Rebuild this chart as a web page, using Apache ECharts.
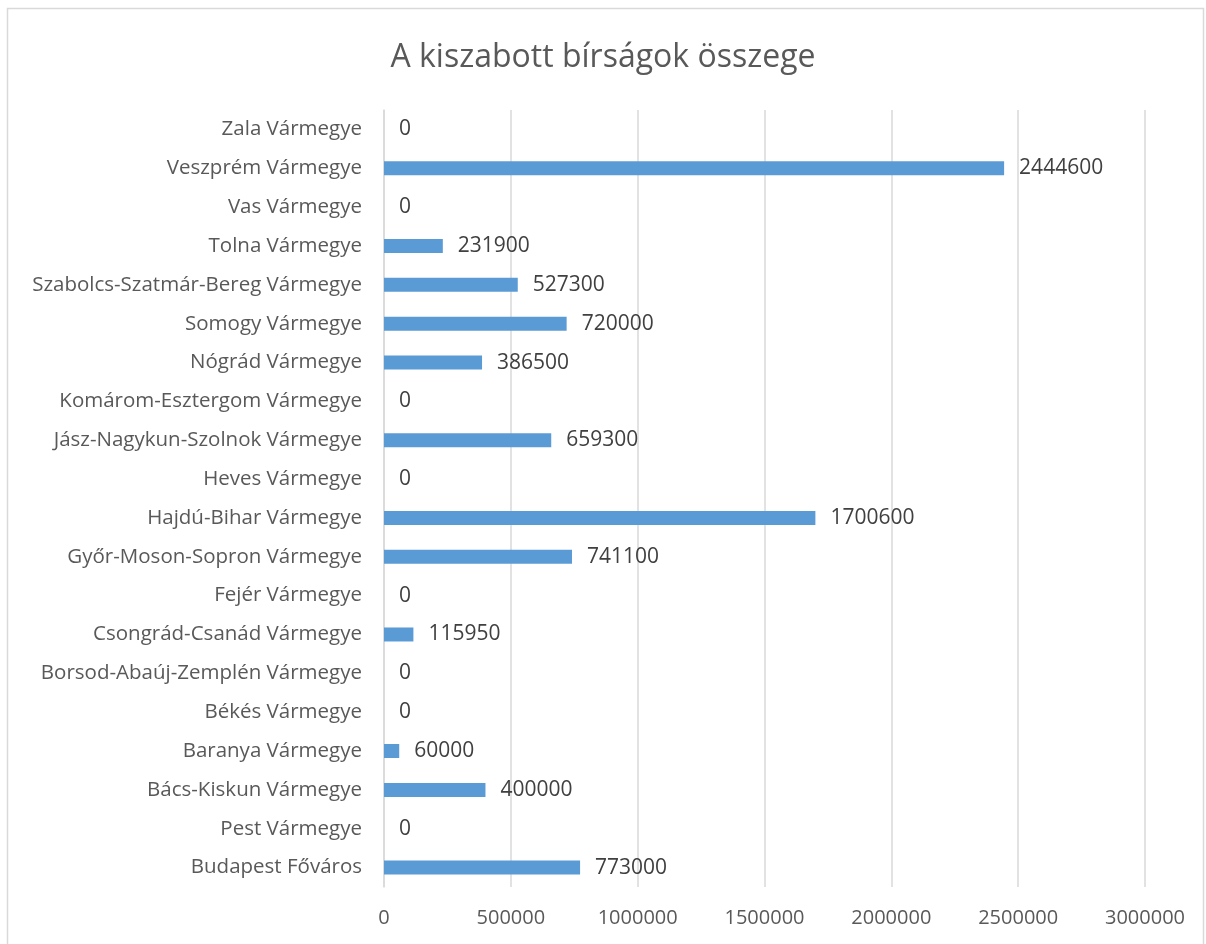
<!DOCTYPE html>
<html>
<head>
<meta charset="utf-8">
<script src="https://cdn.jsdelivr.net/npm/echarts@6/dist/echarts.min.js"></script>
<style>
  html, body { margin: 0; padding: 0; background: #fff; }
  #main { width: 1206px; height: 944px; }
</style>
</head>
<body>
<div id="main"></div>
<script>
// megyék fentről lefelé, ahogy a diagramon
var megyek = [
    'Zala Vármegye',
    'Veszprém Vármegye',
    'Vas Vármegye',
    'Tolna Vármegye',
    'Szabolcs-Szatmár-Bereg Vármegye',
    'Somogy Vármegye',
    'Nógrád Vármegye',
    'Komárom-Esztergom Vármegye',
    'Jász-Nagykun-Szolnok Vármegye',
    'Heves Vármegye',
    'Hajdú-Bihar Vármegye',
    'Győr-Moson-Sopron Vármegye',
    'Fejér Vármegye',
    'Csongrád-Csanád Vármegye',
    'Borsod-Abaúj-Zemplén Vármegye',
    'Békés Vármegye',
    'Baranya Vármegye',
    'Bács-Kiskun Vármegye',
    'Pest Vármegye',
    'Budapest Főváros'
];
var birsagok = [0, 2444600, 0, 231900, 527300, 720000, 386500, 0, 659300, 0,
                1700600, 741100, 0, 115950, 0, 0, 60000, 400000, 0, 773000];

var font = '"Open Sans", "Noto Sans", sans-serif';
var ec = echarts.init(document.getElementById('main'));
ec.setOption({
    animation: false,
    title: {
        text: 'A kiszabott bírságok összege',
        left: 'center',
        top: 37,
        textStyle: { fontFamily: font, fontSize: 32, fontWeight: 'normal', color: '#595959' }
    },
    graphic: [{
        type: 'rect',
        shape: { x: 7.5, y: 8.5, width: 1196, height: 960 },
        style: { fill: 'none', stroke: '#d9d9d9', lineWidth: 1.5 },
        silent: true
    }],
    grid: { left: 384, right: 61, top: 110, bottom: 57 },
    xAxis: {
        type: 'value',
        min: 0,
        max: 3000000,
        interval: 500000,
        axisLine: { show: false },
        axisTick: { show: false },
        axisLabel: {
            fontFamily: font, fontSize: 20, color: '#595959', margin: 21,
            formatter: function (v) { return String(v); }
        },
        splitLine: { lineStyle: { color: '#d9d9d9', width: 1.5 } }
    },
    yAxis: {
        type: 'category',
        data: megyek,
        inverse: true,
        axisLine: { lineStyle: { color: '#d9d9d9', width: 1.5 } },
        axisTick: { show: false },
        axisLabel: {
            fontFamily: font, fontSize: 20.5, color: '#595959', margin: 22,
            padding: [5, 0, 0, 0]
        }
    },
    series: [{
        type: 'bar',
        data: birsagok,
        barWidth: 14,
        itemStyle: { color: '#5b9bd5' },
        label: {
            show: true,
            position: 'right',
            distance: 15,
            padding: [5, 0, 0, 0],
            fontFamily: font,
            fontSize: 21,
            color: '#404040'
        }
    }]
});
</script>
</body>
</html>
